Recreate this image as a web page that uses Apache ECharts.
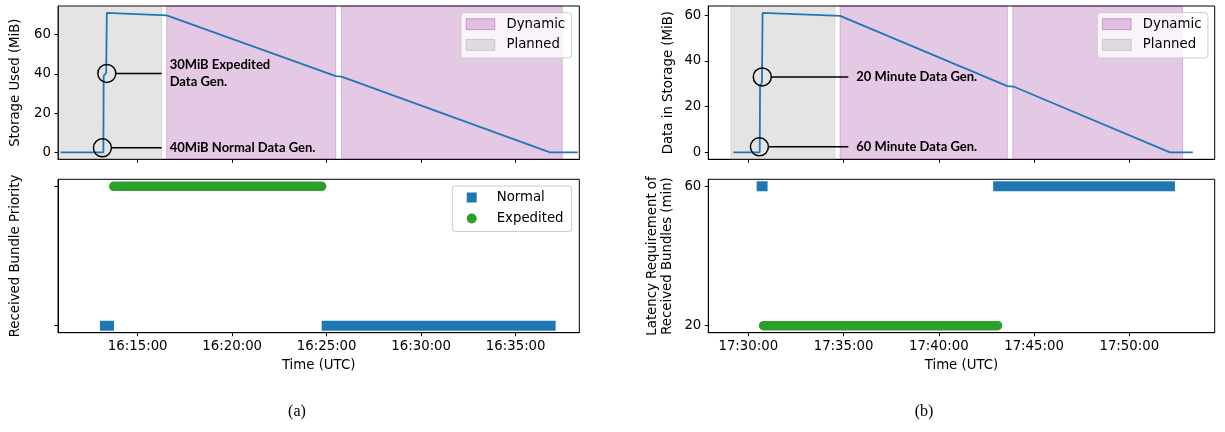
<!DOCTYPE html>
<html>
<head>
<meta charset="utf-8">
<script src="https://cdn.jsdelivr.net/npm/echarts@6/dist/echarts.min.js"></script>
<style>
  html, body { margin: 0; padding: 0; background: #fff; }
  #chart { width: 1225px; height: 432px; }
</style>
</head>
<body>
<div id="chart"></div>
<script>
// ---- data: times are UTC clock times ----
// (a) storage used over the pass, MiB
const storageA = [
  ['16:10:55', 0], ['16:13:11', 0], ['16:13:12', 39], ['16:13:20', 40.5], ['16:13:22', 71.0],
  ['16:16:32', 69.8], ['16:25:29', 38.8], ['16:25:47', 38.6], ['16:36:49', 0], ['16:38:17', 0]
];
const plannedA = [['16:10:40', '16:16:16']];
const dynamicA = [['16:16:32', '16:25:29'], ['16:25:47', '16:37:28']];
// received bundles, as continuous runs of arrivals
const normalRunsA = [['16:13:16', '16:13:29'], ['16:25:00', '16:36:51']];
const expeditedRunsA = [['16:13:44', '16:24:44']];
const xRangeA = ['16:10:47', '16:38:22'];
const xTicksA = ['16:15:00', '16:20:00', '16:25:00', '16:30:00', '16:35:00'];
const notesA = [
  { t: '16:13:08', v: 2.3, text: '40MiB Normal Data Gen.' },
  { t: '16:13:22', v: 40.2, text: '30MiB Expedited\nData Gen.' }
];
const noteEndA = '16:16:16';

// (b)
const storageB = [
  ['17:29:13', 0], ['17:30:36', 0], ['17:30:37', 29], ['17:30:43', 30.5], ['17:30:45', 61.0],
  ['17:34:49', 59.7], ['17:43:36', 29.0], ['17:43:55', 28.8], ['17:52:08', 0], ['17:53:20', 0]
];
const plannedB = [['17:29:05', '17:34:33']];
const dynamicB = [['17:34:49', '17:43:36'], ['17:43:53', '17:52:48']];
const normalRunsB = [['17:30:42', '17:30:45'], ['17:43:07', '17:52:08']];   // 60 min latency
const expeditedRunsB = [['17:30:48', '17:43:05']];                         // 20 min latency
const xRangeB = ['17:27:54', '17:54:29'];
const xTicksB = ['17:30:00', '17:35:00', '17:40:00', '17:45:00', '17:50:00'];
const notesB = [
  { t: '17:30:35', v: 2.4, text: '60 Minute Data Gen.' },
  { t: '17:30:44', v: 33.0, text: '20 Minute Data Gen.' }
];
const noteEndB = '17:35:15';

const storageTicks = [0, 20, 40, 60];
const latencyTicks = [20, 60];

// ---- helpers ----
const toSec = s => { const [h, m, x] = s.split(':').map(Number); return h * 3600 + m * 60 + x; };
const fmt = v => {
  const h = Math.floor(v / 3600), m = Math.floor((v % 3600) / 60), s = Math.round(v % 60);
  return [h, m, s].map(n => String(n).padStart(2, '0')).join(':');
};

const FONT = 'DejaVu Sans';
const FS = 13.3;
const BLUE = '#1f77b4', GREEN = '#2ca02c';
const PURPLE_FILL = 'rgba(128,0,128,0.21)', PURPLE_EDGE = 'rgba(128,0,128,0.22)';
const GRAY_FILL = 'rgba(128,128,128,0.21)', GRAY_EDGE = 'rgba(128,128,128,0.22)';

const grids = [
  { left: 58, top: 6, width: 521.3, height: 153.3 },
  { left: 58, top: 179.3, width: 521.3, height: 153.4 },
  { left: 708.3, top: 6, width: 506.4, height: 153.3 },
  { left: 708.3, top: 179.3, width: 506.4, height: 153.4 }
].map(g => Object.assign({ show: true, borderColor: '#000', borderWidth: 1, containLabel: false }, g));

function xAxis(gridIndex, range, ticks, withLabels) {
  const vals = ticks.map(toSec);
  return {
    type: 'value', gridIndex,
    min: toSec(range[0]), max: toSec(range[1]),
    axisLine: { show: true, onZero: false, lineStyle: { color: '#000', width: 1 } },
    splitLine: { show: false },
    axisTick: { show: true, customValues: vals, length: 3.5, lineStyle: { color: '#000', width: 1 } },
    axisLabel: { show: withLabels, customValues: vals, formatter: fmt, color: '#000', fontFamily: FONT, fontSize: FS, margin: 7 },
    name: withLabels ? 'Time (UTC)' : '',
    nameLocation: 'middle', nameGap: 26,
    nameTextStyle: { color: '#000', fontFamily: FONT, fontSize: FS }
  };
}

function yAxis(gridIndex, min, max, ticks, withLabels, name, gap) {
  return {
    type: 'value', gridIndex, min, max,
    axisLine: { show: true, onZero: false, lineStyle: { color: '#000', width: 1 } },
    splitLine: { show: false },
    axisTick: { show: true, customValues: ticks, length: 3.5, lineStyle: { color: '#000', width: 1 } },
    axisLabel: { show: withLabels, customValues: ticks, color: '#000', fontFamily: FONT, fontSize: FS, margin: 7 },
    name, nameLocation: 'middle', nameRotate: 90, nameGap: gap,
    nameTextStyle: { color: '#000', fontFamily: FONT, fontSize: FS, lineHeight: 15.5 }
  };
}

function spanSeries(name, axisIndex, spans, fill, stroke) {
  return {
    type: 'custom', name, xAxisIndex: axisIndex, yAxisIndex: axisIndex, z: 1, silent: true,
    data: spans.map(s => [toSec(s[0]), toSec(s[1])]),
    encode: { x: [0, 1] },
    itemStyle: { color: fill },
    renderItem: (params, api) => {
      const cs = params.coordSys;
      let x0 = api.coord([api.value(0), 0])[0];
      let x1 = api.coord([api.value(1), 0])[0];
      x0 = Math.max(x0, cs.x); x1 = Math.min(x1, cs.x + cs.width);
      return { type: 'rect', shape: { x: x0, y: cs.y, width: x1 - x0, height: cs.height },
               style: { fill, stroke, lineWidth: 1 } };
    }
  };
}

function lineSeries(axisIndex, pts) {
  return {
    type: 'line', xAxisIndex: axisIndex, yAxisIndex: axisIndex, z: 3, silent: true,
    data: pts.map(p => [toSec(p[0]), p[1]]),
    symbol: 'none', showSymbol: false,
    lineStyle: { color: BLUE, width: 1.8 }, itemStyle: { color: BLUE }
  };
}

function runSeries(name, axisIndex, runs, y, color, width, cap) {
  return runs.map(r => ({
    type: 'line', name, xAxisIndex: axisIndex, yAxisIndex: axisIndex, z: 3, silent: true,
    data: [[toSec(r[0]), y], [toSec(r[1]), y]],
    symbol: 'none', showSymbol: false,
    lineStyle: { color, width, cap }, itemStyle: { color }
  }));
}

const legendText = { color: '#000', fontFamily: FONT, fontSize: FS, lineHeight: 16 };
function spanLegend(left) {
  return {
    left, top: 12.7, orient: 'vertical', selectedMode: false,
    padding: [3.5, 6.5, 5, 4.7], itemGap: 4.7, itemWidth: 28.6, itemHeight: 11,
    backgroundColor: 'rgba(255,255,255,0.8)', borderColor: '#cccccc', borderWidth: 1, borderRadius: 3,
    textStyle: Object.assign({ padding: [0, 0, 0, 6.7] }, legendText),
    data: [
      { name: 'Dynamic', icon: 'rect', itemStyle: { color: PURPLE_FILL, borderColor: 'rgba(128,0,128,0.3)', borderWidth: 1 } },
      { name: 'Planned', icon: 'rect', itemStyle: { color: GRAY_FILL, borderColor: 'rgba(128,128,128,0.3)', borderWidth: 1 } }
    ]
  };
}

const chart = echarts.init(document.getElementById('chart'), null, { renderer: 'canvas' });

const option = {
  animation: false,
  backgroundColor: '#fff',
  grid: grids,
  xAxis: [
    xAxis(0, xRangeA, xTicksA, false),
    xAxis(1, xRangeA, xTicksA, true),
    xAxis(2, xRangeB, xTicksB, false),
    xAxis(3, xRangeB, xTicksB, true)
  ],
  yAxis: [
    yAxis(0, -3.55, 74.55, storageTicks, true, 'Storage Used (MiB)', 35),
    yAxis(1, -0.05, 1.05, [0, 1], false, 'Received Bundle Priority', 35),
    yAxis(2, -3.05, 64.05, storageTicks, true, 'Data in Storage (MiB)', 32),
    yAxis(3, 18, 62, latencyTicks, true, 'Latency Requirement of\nReceived Bundles (min)', 33)
  ],
  legend: [
    spanLegend(461),
    spanLegend(1097.3),
    {
      left: 452.3, top: 186, orient: 'vertical', selectedMode: false,
      padding: [3.5, 8, 5, 14.4], itemGap: 5, itemWidth: 10, itemHeight: 10,
      backgroundColor: 'rgba(255,255,255,0.8)', borderColor: '#cccccc', borderWidth: 1, borderRadius: 3,
      textStyle: Object.assign({ padding: [0, 0, 0, 15] }, legendText),
      data: [
        { name: 'Normal', icon: 'rect', itemStyle: { color: BLUE } },
        { name: 'Expedited', icon: 'circle', itemStyle: { color: GREEN } }
      ]
    }
  ],
  title: [
    { text: '(a)', left: 292, top: 399, textAlign: 'center',
      textStyle: { fontFamily: 'Liberation Serif', fontWeight: 'normal', fontSize: 16, color: '#000' } },
    { text: '(b)', left: 919, top: 399, textAlign: 'center',
      textStyle: { fontFamily: 'Liberation Serif', fontWeight: 'normal', fontSize: 16, color: '#000' } }
  ],
  series: [
    spanSeries('Planned', 0, plannedA, GRAY_FILL, GRAY_EDGE),
    spanSeries('Dynamic', 0, dynamicA, PURPLE_FILL, PURPLE_EDGE),
    lineSeries(0, storageA),
    ...runSeries('Normal', 1, normalRunsA, 0, BLUE, 10, 'square'),
    ...runSeries('Expedited', 1, expeditedRunsA, 1, GREEN, 9.5, 'round'),
    spanSeries('Planned', 2, plannedB, GRAY_FILL, GRAY_EDGE),
    spanSeries('Dynamic', 2, dynamicB, PURPLE_FILL, PURPLE_EDGE),
    lineSeries(2, storageB),
    ...runSeries('Normal', 3, normalRunsB, 60, BLUE, 10, 'square'),
    ...runSeries('Expedited', 3, expeditedRunsB, 20, GREEN, 9.5, 'round')
  ]
};
chart.setOption(option);

// circled callouts with a leader line and bold note, anchored at data points
function callouts(gridIndex, notes, endT) {
  const els = [];
  const R = 9;
  notes.forEach(n => {
    const [cx, cy] = chart.convertToPixel({ gridIndex }, [toSec(n.t), n.v]);
    const ex = chart.convertToPixel({ gridIndex }, [toSec(endT), n.v])[0];
    els.push({ type: 'circle', z: 100, shape: { cx, cy, r: R },
               style: { fill: 'transparent', stroke: '#000', lineWidth: 1.5 } });
    els.push({ type: 'line', z: 100, shape: { x1: cx + R, y1: cy, x2: ex, y2: cy },
               style: { stroke: '#000', lineWidth: 1.5 } });
    els.push({ type: 'text', z: 100, x: ex + 8, y: cy,
               style: { text: n.text, fill: '#000', font: 'bold 13px Lato', lineHeight: 17,
                        align: 'left', verticalAlign: 'middle', textAlign: 'left', textVerticalAlign: 'middle' } });
  });
  return els;
}
chart.setOption({ graphic: [...callouts(0, notesA, noteEndA), ...callouts(2, notesB, noteEndB)] });
</script>
</body>
</html>
